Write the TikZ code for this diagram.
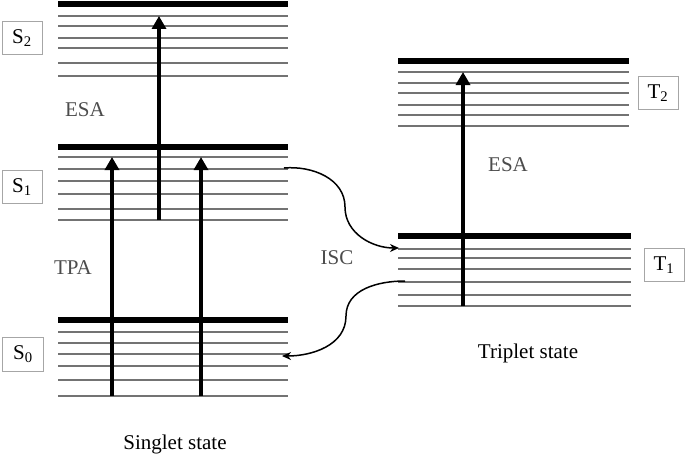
\documentclass[tikz,border=0pt]{standalone}
\usepackage{fontspec}
\setmainfont{Liberation Serif}
\usepackage{tikz}
\usetikzlibrary{arrows.meta}
\usetikzlibrary{positioning}
\colorlet{colorSub}{black!55}
\colorlet{colorLbl}{black!70}
\tikzset{
   every path/.style={>=Stealth},
   ground/.style={line width=6pt,black},
   sub/.style={line width=1.2pt,color=colorSub},
   excite/.style={-{Triangle[length=13pt,width=14pt]},line width=4pt,black},
   isc/.style={->,>={Stealth[length=9pt,width=8pt]},line width=1.5pt,black},
   statebox/.style={draw=black!35,line width=0.8pt,minimum width=40pt,minimum height=33pt,inner sep=0pt},
   proc/.style={color=colorLbl},
}
\newcommand{\lvl}[2]{#1\textsubscript{#2}}

\begin{document}
\begin{tikzpicture}[x=1pt,y=-1pt,font=\fontsize{21}{25}\selectfont]
        \useasboundingbox (0,0) rectangle (685,460);

        % singlet manifold
        \draw[ground] (58,4) -- (288,4);
        \foreach \y in {16,26,38,48,63,76} \draw[sub] (58,\y) -- (288,\y);
        \draw[ground] (58,147) -- (288,147);
        \foreach \y in {157,169,181,194,209,220} \draw[sub] (58,\y) -- (288,\y);
        \draw[ground] (58,320) -- (288,320);
        \foreach \y in {332,343,354,366,380,396} \draw[sub] (58,\y) -- (288,\y);

        % triplet manifold
        \draw[ground] (398,61) -- (629,61);
        \foreach \y in {72,83,93,105,115,126} \draw[sub] (398,\y) -- (629,\y);
        \draw[ground] (398,236) -- (631,236);
        \foreach \y in {249,258,269,282,295,306} \draw[sub] (398,\y) -- (631,\y);

        \node[statebox] (s2) at (22,38) {\lvl{S}{2}};
        \node[statebox] (s1) at (22,187) {\lvl{S}{1}};
        \node[statebox,minimum width=41pt,minimum height=34pt] (s0) at (23,354) {\lvl{S}{0}};
        \node[statebox] (t2) at (658,93) {\lvl{T}{2}};
        \node[statebox] (t1) at (664,265) {\lvl{T}{1}};

        \node[proc] (esaS) at (85,110) {ESA};
        \node[proc] (tpa) at (73,268) {TPA};
        \node[proc] (isc) at (337,258) {ISC};
        \node[proc] (esaT) at (508,165) {ESA};

        \node (singlet) at (175,444) {Singlet state};
        \node (triplet) at (528,353) {Triplet state};

        \coordinate (tpa1a) at (112,396);
        \coordinate (tpa1b) at (112,157);
        \coordinate (tpa2a) at (201,396);
        \coordinate (tpa2b) at (201,157);
        \coordinate (esa1a) at (159,220);
        \coordinate (esa1b) at (159,16);
        \coordinate (esa2a) at (463,306);
        \coordinate (esa2b) at (463,72);

        \draw[excite] (tpa1a) -- (tpa1b);
        \draw[excite] (tpa2a) -- (tpa2b);
        \draw[excite] (esa1a) -- (esa1b);
        \draw[excite] (esa2a) -- (esa2b);

        \coordinate (iscA) at (284,168);
        \coordinate (iscM) at (345,207);
        \coordinate (iscB) at (399,248);
        \coordinate (rA) at (405,281);
        \coordinate (rM) at (346,316);
        \coordinate (rB) at (282,356);

        \draw[isc] (iscA) to[out=5,in=90] (iscM) to[out=-90,in=180] (iscB);
        \draw[isc] (rA) to[out=180,in=90] (rM) to[out=-90,in=0] (rB);

      \end{tikzpicture}
\end{document}
